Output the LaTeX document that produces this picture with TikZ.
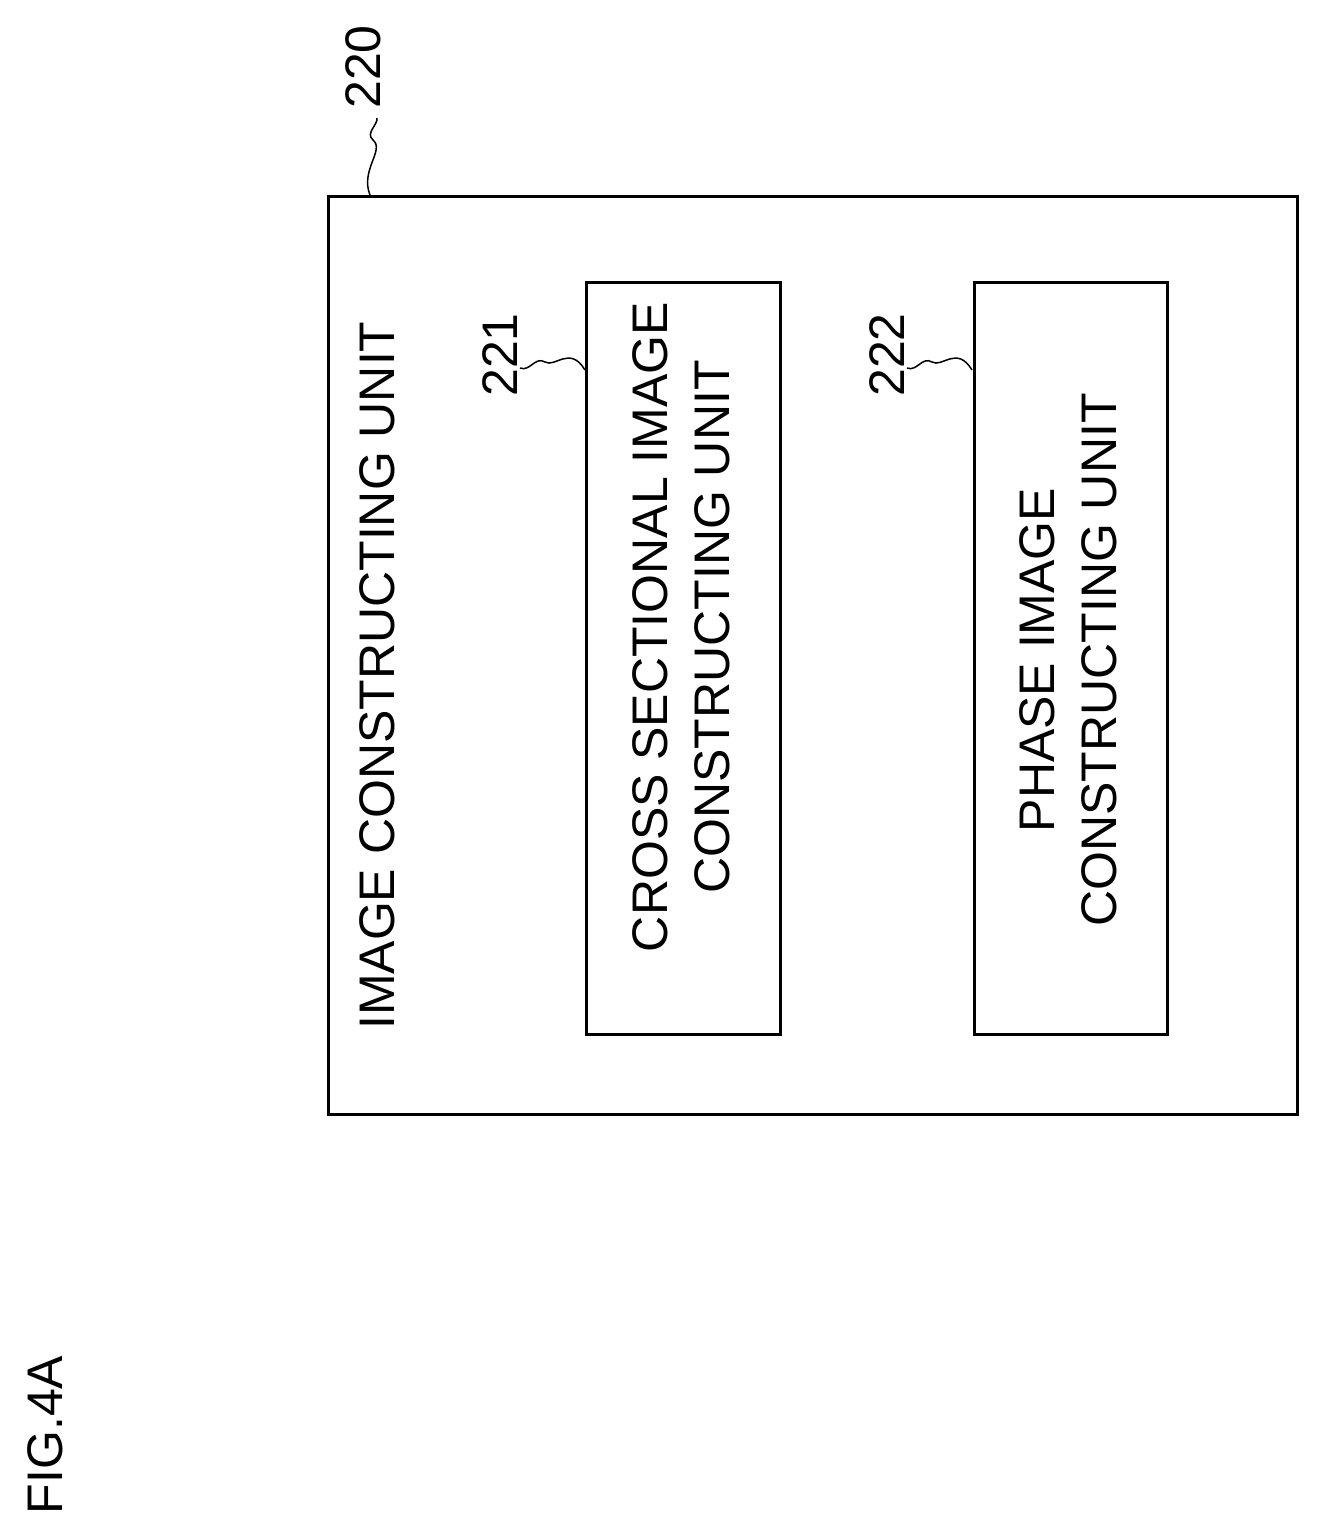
\documentclass[tikz,border=0pt]{standalone}
\usepackage{fontspec}
\setmainfont{Liberation Sans}
\begin{document}
\begin{tikzpicture}[x=1pt,y=-1pt,
  box/.style={draw,line width=3pt},
  lbl/.style={rotate=90,font=\fontsize{50}{62}\selectfont,align=center,inner sep=0pt},
  sq/.style={line width=1.5pt}]
\useasboundingbox (0,0) rectangle (1320,1537);
\draw[box] (328,196) rectangle (1297,1114);
\draw[box] (586,282) rectangle (780,1034);
\draw[box] (974,282) rectangle (1167,1034);
\node[lbl,anchor=west] (t0) at (377,1030) {IMAGE CONSTRUCTING UNIT};
\node[lbl] (t1) at (681,627) {CROSS SECTIONAL IMAGE\\CONSTRUCTING UNIT};
\node[lbl] (t2) at (1068,660) {PHASE IMAGE\\CONSTRUCTING UNIT};
\node[lbl] (n220) at (363,67) {220};
\node[lbl] (n221) at (500,355) {221};
\node[lbl] (n222) at (887,355) {222};
\node[lbl] (fig) at (45,1435) {FIG.4A};
\coordinate (a) at (370,195);
\coordinate (b) at (377,118);
\draw[sq] (a) .. controls (360,170) and (385,150) .. (373,140) .. controls (365,133) and (378,125) .. (b);
\draw[sq] (585,370) .. controls (570,345) and (555,368) .. (545,362) .. controls (535,356) and (530,372) .. (520,368);
\draw[sq] (972,370) .. controls (957,345) and (942,368) .. (932,362) .. controls (922,356) and (917,372) .. (907,368);
\end{tikzpicture}
\end{document}
